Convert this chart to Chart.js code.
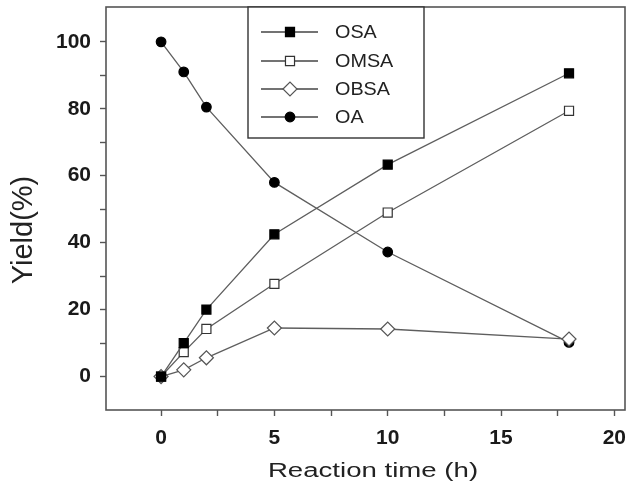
<!DOCTYPE html>
<html>
<head>
<meta charset="utf-8">
<script src="https://cdn.jsdelivr.net/npm/chart.js@4/dist/chart.umd.min.js"></script>
<style>
  html, body { margin: 0; padding: 0; background: #fff; }
  #wrap { width: 627px; height: 488px; position: relative; }
</style>
</head>
<body>
<div id="wrap"><canvas id="chart-1"></canvas></div>
<script>
const times = [0, 1, 2, 5, 10, 18];
const seriesNames = ["OSA", "OMSA", "OBSA", "OA"];
const osa = [0, 10, 20, 42.5, 63.3, 90.6];
const omsa = [0, 7.3, 14.2, 27.7, 49, 79.4];
const obsa = [0, 2, 5.6, 14.5, 14.2, 11.2];
const oa = [100, 91, 80.5, 58, 37.2, 10.2];
const xTicks = [0, 2.5, 5, 7.5, 10, 12.5, 15, 17.5, 20];
const yTicks = [0, 10, 20, 30, 40, 50, 60, 70, 80, 90, 100];

const FONT = "'Liberation Sans', Arial, sans-serif";
const LINE = "#5e5e5e";

const toPoints = (values) => values.map((v, i) => ({ x: times[i], y: v }));

const styles = [
  { pointStyle: "rect", pointRadius: 6.4, bg: "#000", border: "#000" },
  { pointStyle: "rect", pointRadius: 6.4, bg: "#fff", border: "#333" },
  { pointStyle: "rectRot", pointRadius: 7, bg: "#fff", border: "#555" },
  { pointStyle: "circle", pointRadius: 4.8, bg: "#000", border: "#000" },
];

const datasets = [osa, omsa, obsa, oa].map((values, i) => ({
  label: seriesNames[i],
  data: toPoints(values),
  borderColor: LINE,
  borderWidth: 1.3,
  pointStyle: styles[i].pointStyle,
  pointRadius: styles[i].pointRadius,
  pointHoverRadius: styles[i].pointRadius,
  pointBackgroundColor: styles[i].bg,
  pointBorderColor: styles[i].border,
  pointBorderWidth: 1.2,
  fill: false,
  tension: 0,
}));

// frame, legend box and axis titles
const extras = {
  id: "extras",
  afterDraw(chart) {
    const ctx = chart.ctx;
    const a = chart.chartArea;
    ctx.save();
    ctx.strokeStyle = "#555";
    ctx.lineWidth = 1.6;
    ctx.strokeRect(a.left, a.top, a.right - a.left, a.bottom - a.top);

    // legend
    const lx = 248, ly = a.top, lw = 176, lh = 131;
    ctx.fillStyle = "#fff";
    ctx.fillRect(lx, ly, lw, lh);
    ctx.strokeStyle = "#333";
    ctx.lineWidth = 1.4;
    ctx.strokeRect(lx, ly, lw, lh);
    const rows = [32, 61, 89, 117];
    chart.data.datasets.forEach((ds, i) => {
      const y = rows[i];
      ctx.strokeStyle = "#444";
      ctx.lineWidth = 1.3;
      ctx.beginPath();
      ctx.moveTo(261, y);
      ctx.lineTo(318, y);
      ctx.stroke();
      ctx.fillStyle = ds.pointBackgroundColor;
      ctx.strokeStyle = ds.pointBorderColor;
      ctx.lineWidth = 1.2;
      Chart.helpers.drawPoint(ctx, { pointStyle: ds.pointStyle, radius: ds.pointRadius, borderWidth: 1.2 }, 290, y);
      ctx.save();
      ctx.translate(335, y);
      ctx.scale(1.1, 1);
      ctx.fillStyle = "#222";
      ctx.font = "18px " + FONT;
      ctx.textBaseline = "middle";
      ctx.fillText(ds.label, 0, 1);
      ctx.restore();
    });

    // x title
    ctx.save();
    ctx.translate(373, 477);
    ctx.scale(1.38, 1);
    ctx.fillStyle = "#222";
    ctx.font = "20px " + FONT;
    ctx.textAlign = "center";
    ctx.textBaseline = "alphabetic";
    ctx.fillText("Reaction time (h)", 0, 0);
    ctx.restore();

    // y title
    ctx.save();
    ctx.translate(32, 230);
    ctx.rotate(-Math.PI / 2);
    ctx.fillStyle = "#222";
    ctx.font = "29px " + FONT;
    ctx.textAlign = "center";
    ctx.textBaseline = "alphabetic";
    ctx.fillText("Yield(%)", 0, 0);
    ctx.restore();
    ctx.restore();
  },
};

const config = {
  type: "line",
  data: { datasets: datasets },
  options: {
    responsive: true,
    maintainAspectRatio: false,
    animation: false,
    events: [],
    layout: { autoPadding: false, padding: { top: 7, right: 2, left: 0, bottom: 0 } },
    plugins: { legend: { display: false }, tooltip: { enabled: false } },
    scales: {
      x: {
        type: "linear",
        min: -2.43,
        max: 20.47,
        afterBuildTicks: (scale) => { scale.ticks = xTicks.map((v) => ({ value: v })); },
        afterFit: (scale) => {
          scale.height = 78;
          scale.paddingLeft = 0;
          scale.paddingRight = 0;
        },
        grid: { drawOnChartArea: false, drawTicks: true, tickLength: 6, tickColor: "#555", tickWidth: 1.4 },
        border: { display: false },
        ticks: {
          padding: 10,
          color: "#1a1a1a",
          font: { family: FONT, size: 21, weight: "bold" },
          maxRotation: 0,
          autoSkip: false,
          callback: (v) => (v % 5 === 0 ? v : ""),
        },
      },
      y: {
        type: "linear",
        min: -10,
        max: 110.4,
        afterBuildTicks: (scale) => { scale.ticks = yTicks.map((v) => ({ value: v })); },
        afterFit: (scale) => {
          scale.width = 106;
          scale.paddingTop = 0;
          scale.paddingBottom = 0;
        },
        grid: { drawOnChartArea: false, drawTicks: true, tickLength: 6, tickColor: "#555", tickWidth: 1.4 },
        border: { display: false },
        ticks: {
          padding: 9,
          color: "#1a1a1a",
          font: { family: FONT, size: 21, weight: "bold" },
          autoSkip: false,
          callback: (v) => (v % 20 === 0 ? v : ""),
        },
      },
    },
  },
  plugins: [extras],
};

const chart1 = new Chart(document.getElementById("chart-1"), config);
</script>
</body>
</html>
